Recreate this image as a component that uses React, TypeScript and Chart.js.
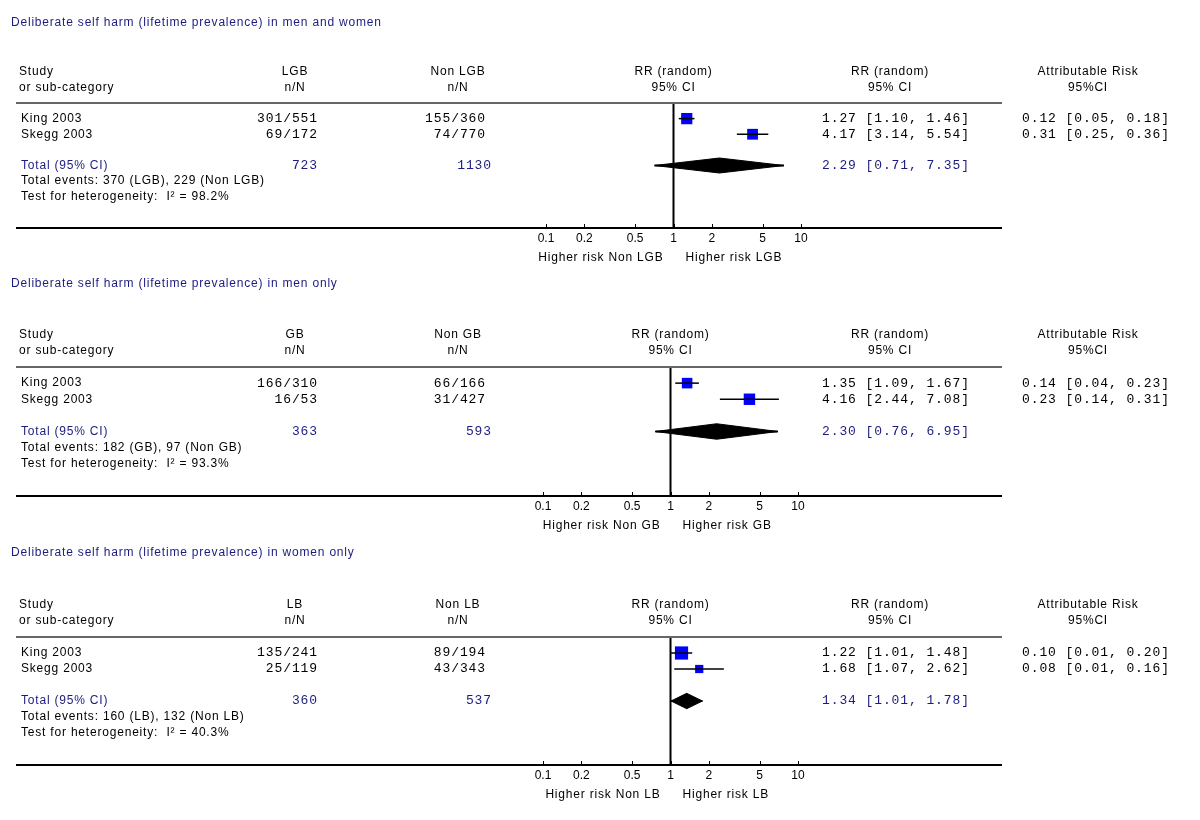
import React, { useEffect, useRef } from "react";
import { Chart, registerables } from "chart.js";

Chart.register(...registerables);

// ---------------- data ----------------
const PANEL_TITLES = [
  "Deliberate self harm (lifetime prevalence) in men and women",
  "Deliberate self harm (lifetime prevalence) in men only",
  "Deliberate self harm (lifetime prevalence) in women only",
];
const GROUP_LABELS = ["LGB", "GB", "LB"];
const CONTROL_LABELS = ["Non LGB", "Non GB", "Non LB"];
const STUDIES = ["King 2003", "Skegg 2003"];

const EXP_EVENTS = [[301, 69], [166, 16], [135, 25]];
const EXP_TOTAL = [[551, 172], [310, 53], [241, 119]];
const CTRL_EVENTS = [[155, 74], [66, 31], [89, 43]];
const CTRL_TOTAL = [[360, 770], [166, 427], [194, 343]];

const RR = [[1.27, 4.17], [1.35, 4.16], [1.22, 1.68]];
const RR_LO = [[1.10, 3.14], [1.09, 2.44], [1.01, 1.07]];
const RR_HI = [[1.46, 5.54], [1.67, 7.08], [1.48, 2.62]];
const WEIGHTS = [[52, 48], [46, 54], [72, 28]];

const POOLED_RR = [2.29, 2.30, 1.34];
const POOLED_LO = [0.71, 0.76, 1.01];
const POOLED_HI = [7.35, 6.95, 1.78];

const TOTAL_EXP = [723, 363, 360];
const TOTAL_CTRL = [1130, 593, 537];
const EVENTS_EXP = [370, 182, 160];
const EVENTS_CTRL = [229, 97, 132];
const I2 = [98.2, 93.3, 40.3];

const AR = [[0.12, 0.31], [0.14, 0.23], [0.10, 0.08]];
const AR_LO = [[0.05, 0.25], [0.04, 0.14], [0.01, 0.01]];
const AR_HI = [[0.18, 0.36], [0.23, 0.31], [0.20, 0.16]];

const TICK_VALUES = [0.1, 0.2, 0.5, 1, 2, 5, 10];
const TICK_LABELS = ["0.1", "0.2", "0.5", "1", "2", "5", "10"];

// ---------------- layout ----------------
const PANEL_TOPS = [0, 264, 534];
const PANEL_HEIGHTS = [264, 270, 286];
const PANEL_SHIFT = [3, 0, 0];
const TITLE_Y = [23, 20, 19];
const LINE_Y = 103;
const AXIS_Y = [228, 232, 231];
const AXIS_H = 30;
const PLOT_LEFT = 543;
const PLOT_RIGHT = 798;

const Y_MIN = 0;
const Y_MAX = 8;
const ROW_HDR1 = -2;
const ROW_HDR2 = -1;
const ROW_TOTAL = 4;
const ROW_EVENTS = 5;
const ROW_TEST = 6;
const DIAMOND_H = 0.48;

const SANS = '12px "Liberation Sans", Arial, sans-serif';
const SANS_SPACING = "0.8px";
const MONO = '13px "Liberation Mono", "DejaVu Sans Mono", monospace';
const MONO_SPACING = "0.9px";
const NAVY = "#1c1c80";
const BLUE = "#0000ff";

const X_TITLE = 11;
const X_STUDY = 21;
const X_STUDY_HDR = 19;
const X_EXP_HDR = 295;
const X_EXP = 318;
const X_CTRL_HDR = 458;
const X_CTRL = 486;
const X_TOT_CTRL = 492;
const X_RRT = 822;
const X_RRT_HDR = 890;
const X_AR = 1022;
const X_AR_HDR = 1088;
const LINE_X0 = 16;
const LINE_X1 = 1002;

const f2 = (v: number) => v.toFixed(2);

function makeTextPlugin(p: number) {
  return {
    id: "forestText" + p,
    afterDraw(chart: any) {
      const ctx: CanvasRenderingContext2D = chart.ctx;
      const xs = chart.scales.x;
      const ys = chart.scales.y;
      const ry = (r: number) => ys.getPixelForValue(r);
      const top = chart.chartArea.top;
      const bottom = chart.chartArea.bottom;
      const x1 = xs.getPixelForValue(1);
      ctx.save();

      const text = (s: string, x: number, y: number, align: CanvasTextAlign, font: string, color: string, mono = false) => {
        ctx.font = font;
        ctx.fillStyle = color;
        ctx.textAlign = align;
        ctx.textBaseline = "middle";
        (ctx as any).letterSpacing = mono ? MONO_SPACING : SANS_SPACING;
        ctx.fillText(s, x, y);
        (ctx as any).letterSpacing = "0px";
      };

      // title
      text(PANEL_TITLES[p], X_TITLE, TITLE_Y[p], "left", SANS, NAVY);

      // headers
      text("Study", X_STUDY_HDR, ry(ROW_HDR1), "left", SANS, "#000");
      text("or sub-category", X_STUDY_HDR, ry(ROW_HDR2), "left", SANS, "#000");
      text(GROUP_LABELS[p], X_EXP_HDR, ry(ROW_HDR1), "center", SANS, "#000");
      text("n/N", X_EXP_HDR, ry(ROW_HDR2), "center", SANS, "#000");
      text(CONTROL_LABELS[p], X_CTRL_HDR, ry(ROW_HDR1), "center", SANS, "#000");
      text("n/N", X_CTRL_HDR, ry(ROW_HDR2), "center", SANS, "#000");
      text("RR (random)", x1, ry(ROW_HDR1), "center", SANS, "#000");
      text("95% CI", x1, ry(ROW_HDR2), "center", SANS, "#000");
      text("RR (random)", X_RRT_HDR, ry(ROW_HDR1), "center", SANS, "#000");
      text("95% CI", X_RRT_HDR, ry(ROW_HDR2), "center", SANS, "#000");
      text("Attributable Risk", X_AR_HDR, ry(ROW_HDR1), "center", SANS, "#000");
      text("95%CI", X_AR_HDR, ry(ROW_HDR2), "center", SANS, "#000");

      // rules
      ctx.strokeStyle = "#666";
      ctx.lineWidth = 2;
      ctx.beginPath();
      ctx.moveTo(LINE_X0, top);
      ctx.lineTo(LINE_X1, top);
      ctx.stroke();
      ctx.strokeStyle = "#000";
      ctx.lineWidth = 2;
      ctx.beginPath();
      ctx.moveTo(LINE_X0, bottom);
      ctx.lineTo(LINE_X1, bottom);
      ctx.stroke();
      // tick marks
      ctx.lineWidth = 1;
      TICK_VALUES.forEach((v) => {
        const x = Math.round(xs.getPixelForValue(v)) + 0.5;
        ctx.beginPath();
        ctx.moveTo(x, bottom - 4);
        ctx.lineTo(x, bottom);
        ctx.stroke();
      });

      // study rows
      STUDIES.forEach((s, i) => {
        const y = ry(i + 1);
        text(s, X_STUDY, y, "left", SANS, "#000");
        text(`${EXP_EVENTS[p][i]}/${EXP_TOTAL[p][i]}`, X_EXP, y, "right", MONO, "#000", true);
        text(`${CTRL_EVENTS[p][i]}/${CTRL_TOTAL[p][i]}`, X_CTRL, y, "right", MONO, "#000", true);
        text(`${f2(RR[p][i])} [${f2(RR_LO[p][i])}, ${f2(RR_HI[p][i])}]`, X_RRT, y, "left", MONO, "#000", true);
        text(`${f2(AR[p][i])} [${f2(AR_LO[p][i])}, ${f2(AR_HI[p][i])}]`, X_AR, y, "left", MONO, "#000", true);
      });

      // totals
      const yt = ry(ROW_TOTAL);
      text("Total (95% CI)", X_STUDY, yt, "left", SANS, NAVY);
      text(String(TOTAL_EXP[p]), X_EXP, yt, "right", MONO, NAVY, true);
      text(String(TOTAL_CTRL[p]), X_TOT_CTRL, yt, "right", MONO, NAVY, true);
      text(`${f2(POOLED_RR[p])} [${f2(POOLED_LO[p])}, ${f2(POOLED_HI[p])}]`, X_RRT, yt, "left", MONO, NAVY, true);
      text(
        `Total events: ${EVENTS_EXP[p]} (${GROUP_LABELS[p]}), ${EVENTS_CTRL[p]} (${CONTROL_LABELS[p]})`,
        X_STUDY, ry(ROW_EVENTS), "left", SANS, "#000"
      );
      text(`Test for heterogeneity:  I\u00B2 = ${I2[p].toFixed(1)}%`, X_STUDY, ry(ROW_TEST), "left", SANS, "#000");

      // favours labels
      text(`Higher risk ${CONTROL_LABELS[p]}`, x1 - 10, bottom + 30, "right", SANS, "#000");
      text(`Higher risk ${GROUP_LABELS[p]}`, x1 + 12, bottom + 30, "left", SANS, "#000");

      ctx.restore();
    },
  };
}

function buildConfig(p: number): any {
  const ciSets = STUDIES.map((_, i) => ({
    type: "line",
    data: [
      { x: RR_LO[p][i], y: i + 1 },
      { x: RR_HI[p][i], y: i + 1 },
    ],
    borderColor: "#000",
    borderWidth: 1.5,
    pointRadius: 0,
    order: 0,
  }));
  return {
    type: "scatter",
    data: {
      datasets: [
        ...ciSets,
        {
          type: "scatter",
          data: RR[p].map((v, i) => ({ x: v, y: i + 1 })),
          pointStyle: "rect",
          pointRadius: WEIGHTS[p].map((w) => 1.1 * Math.sqrt(w)),
          backgroundColor: BLUE,
          borderColor: BLUE,
          borderWidth: 0,
          order: 1,
        },
        {
          type: "line",
          data: [
            { x: POOLED_LO[p], y: ROW_TOTAL },
            { x: POOLED_RR[p], y: ROW_TOTAL - DIAMOND_H },
            { x: POOLED_HI[p], y: ROW_TOTAL },
            { x: POOLED_RR[p], y: ROW_TOTAL + DIAMOND_H },
            { x: POOLED_LO[p], y: ROW_TOTAL },
          ],
          fill: "shape",
          backgroundColor: "#000",
          borderColor: "#000",
          borderWidth: 1,
          pointRadius: 0,
          tension: 0,
          order: 2,
        },
        {
          type: "line",
          data: [
            { x: POOLED_LO[p], y: ROW_TOTAL },
            { x: POOLED_HI[p], y: ROW_TOTAL },
          ],
          borderColor: "#000",
          borderWidth: 2,
          pointRadius: 0,
          order: 2,
        },
        {
          type: "line",
          data: [
            { x: 1, y: Y_MIN },
            { x: 1, y: Y_MAX },
          ],
          borderColor: "#000",
          borderWidth: 2,
          pointRadius: 0,
          order: 3,
        },
      ],
    },
    options: {
      responsive: false,
      maintainAspectRatio: false,
      animation: false,
      devicePixelRatio: 1,
      layout: {
        padding: {
          left: PLOT_LEFT + PANEL_SHIFT[p],
          right: 1200 - PLOT_RIGHT - PANEL_SHIFT[p],
          top: LINE_Y,
          bottom: PANEL_HEIGHTS[p] - AXIS_Y[p] - AXIS_H,
        },
      },
      plugins: { legend: { display: false }, tooltip: { enabled: false } },
      scales: {
        x: {
          type: "logarithmic",
          position: "bottom",
          min: 0.1,
          max: 10,
          afterBuildTicks: (s: any) => {
            s.ticks = TICK_VALUES.map((v) => ({ value: v }));
          },
          afterFit: (s: any) => {
            s.height = AXIS_H;
          },
          ticks: {
            autoSkip: false,
            maxRotation: 0,
            minRotation: 0,
            padding: 3,
            color: "#000",
            font: { family: '"Liberation Sans", Arial, sans-serif', size: 12 },
            callback: (_v: any, i: number) => TICK_LABELS[i],
          },
          grid: { display: false, drawTicks: false },
          border: { display: false },
        },
        y: {
          type: "linear",
          min: Y_MIN,
          max: Y_MAX,
          reverse: true,
          display: false,
        },
      },
    },
    plugins: [makeTextPlugin(p)],
  };
}

export default function App() {
  const refs = useRef<(HTMLCanvasElement | null)[]>([]);
  useEffect(() => {
    const charts = PANEL_TITLES.map((_, p) => new Chart(refs.current[p] as HTMLCanvasElement, buildConfig(p)));
    return () => charts.forEach((c) => c.destroy());
  }, []);
  return (
    <div style={{ position: "absolute", left: 0, top: 0, width: 1200, height: 820, background: "#fff" }}>
      {PANEL_TITLES.map((_, p) => (
        <canvas
          key={p}
          ref={(el) => {
            refs.current[p] = el;
          }}
          width={1200}
          height={PANEL_HEIGHTS[p]}
          style={{ position: "absolute", left: 0, top: PANEL_TOPS[p], display: "block" }}
        />
      ))}
    </div>
  );
}
